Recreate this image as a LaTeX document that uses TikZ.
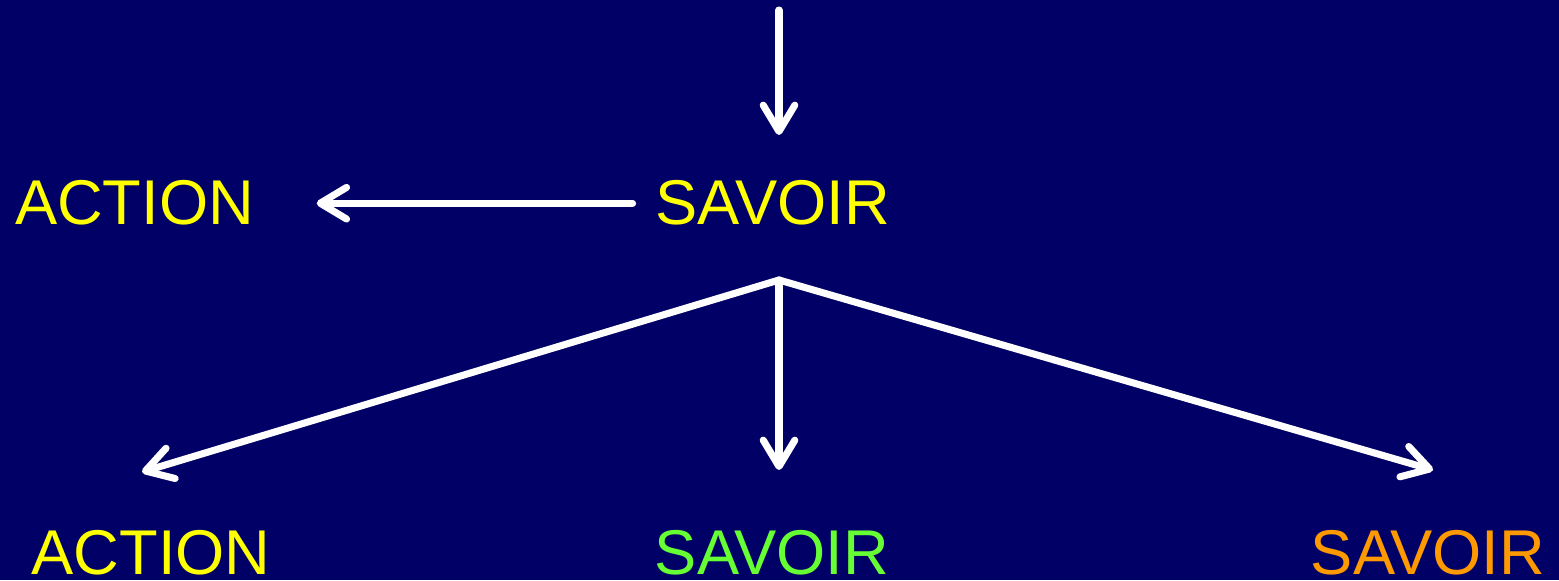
\documentclass[tikz,border=0pt]{standalone}
\usepackage{fontspec}
\setmainfont{Liberation Sans}
\usepackage{xcolor}
\usepackage{tikz}
\usetikzlibrary{positioning, arrows.meta}

\definecolor{slidebg}{RGB}{0,0,102}
\definecolor{savyellow}{RGB}{255,255,0}
\definecolor{savgreen}{RGB}{102,255,51}
\definecolor{savorange}{RGB}{255,153,0}

\begin{document}
\begin{tikzpicture}[
        every node/.style={font=\fontsize{18}{22}\selectfont},
        term/.style={inner sep=0pt, anchor=base, text=savyellow},
        termgreen/.style={term, text=savgreen},
        termorange/.style={term, text=savorange},
        link/.style={draw=white, line width=2pt, line cap=round,
            -{Straight Barb[length=7.5pt, width=9pt, round]}},
    ]
        \fill[slidebg] (0,0) rectangle (15.59,5.80);
        \useasboundingbox (0,0) rectangle (15.59,5.80);

        % Nodes
        \node[term] (savoir) at (7.725,3.55) {SAVOIR};
        \node[term] (action) at (1.345,3.55) {ACTION};
        \node[term] (actionB) at (1.51,0.06) {ACTION};
        \node[termgreen] (savoirB) at (7.72,0.06) {SAVOIR};
        \node[termorange] (savoirC) at (14.28,0.06) {SAVOIR};

        \coordinate (top) at (7.79,5.70);
        \coordinate (topend) at (7.79,4.45);
        \coordinate (fork) at (7.79,3.00);
        \coordinate (tipL) at (1.42,1.08);
        \coordinate (tipM) at (7.79,1.10);
        \coordinate (tipR) at (14.33,1.10);

        % Arrows
        \draw[link] (top) -- (topend);
        \draw[link, shorten <=0.22cm, shorten >=0.62cm] (savoir.west) -- (action.east);
        \draw[link] (fork) -- (tipL);
        \draw[link] (fork) -- (tipM);
        \draw[link] (fork) -- (tipR);

    \end{tikzpicture}
\end{document}
